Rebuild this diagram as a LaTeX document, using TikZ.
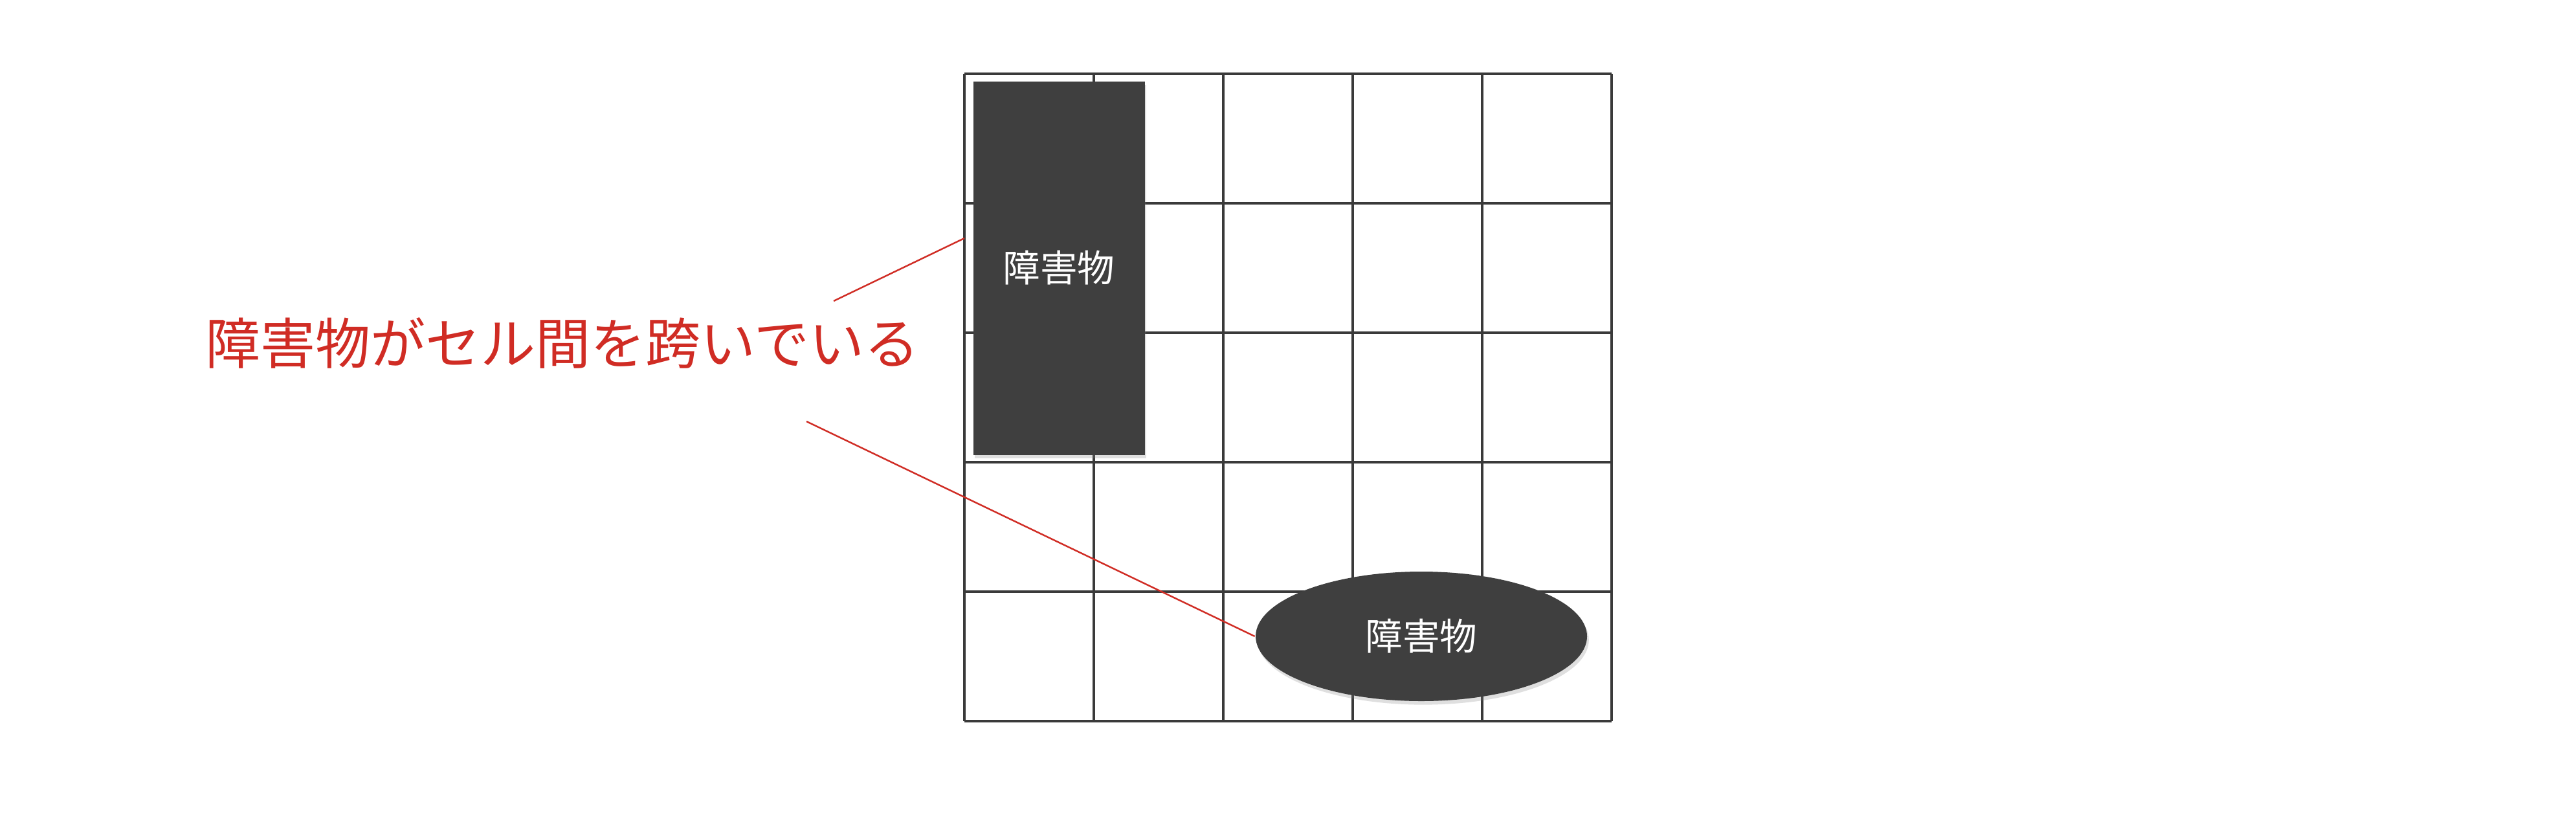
\documentclass[tikz,border=0pt]{standalone}
\usepackage{fontspec}
\newfontfamily\jpfont{Noto Sans CJK JP}
\usetikzlibrary{shapes.geometric,shadows}
\definecolor{obsgray}{RGB}{63,63,63}
\definecolor{notered}{RGB}{208,44,36}
\definecolor{gridgray}{RGB}{58,58,58}
\begin{document}
\begin{tikzpicture}[
    obstacle/.style={fill=obsgray, text=white, inner sep=0pt,
      font=\jpfont\fontsize{8.2}{10}\selectfont,
      drop shadow={shadow xshift=0.4pt, shadow yshift=-0.8pt, opacity=0.25}},
    note/.style={text=notered, font=\jpfont\fontsize{12.1}{15}\selectfont},
    pointer/.style={draw=notered, line width=0.35pt}
  ]
  \useasboundingbox[fill=white] (0,0) rectangle (19.9,6.46);
  % 5x5 cells
  \begin{scope}[shift={(7.45,0.89)}]
    \draw[gridgray, line width=0.45pt] (0,0) grid (5,5);
  \end{scope}
  \draw
    (8.18,4.39) node[obstacle, rectangle, minimum width=1.325cm, minimum height=2.885cm] (obsA){障害物}
    (10.98,1.545) node[obstacle, ellipse, minimum width=2.56cm, minimum height=1.0cm] (obsB){障害物}
    (4.345,3.81) node[note] (label){障害物がセル間を跨いでいる};
  \coordinate (ptrA) at (6.44,4.135);
  \coordinate (edgeA) at (7.45,4.62);
  \coordinate (ptrB) at (6.23,3.205);
  \begin{scope}[pointer]
    \draw (ptrA) to (edgeA);
    \draw (ptrB) to (obsB.west);
  \end{scope}
\end{tikzpicture}
\end{document}
